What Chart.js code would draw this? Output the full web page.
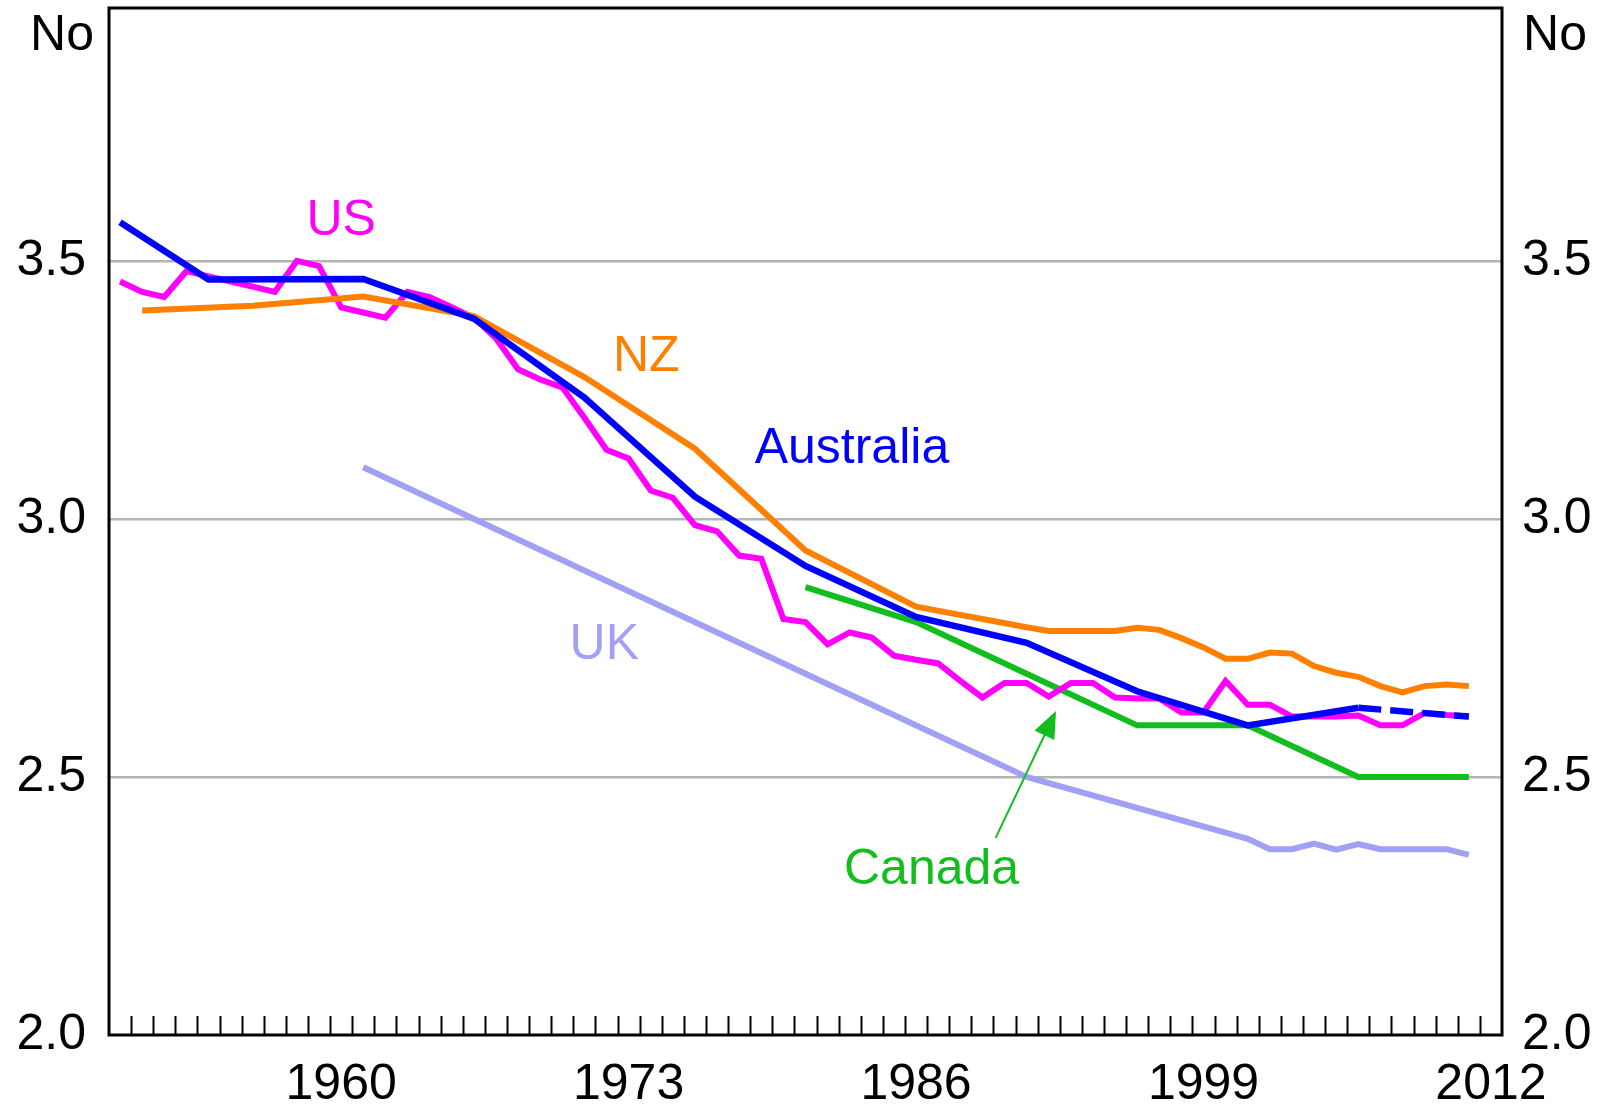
<!DOCTYPE html>
<html>
<head>
<meta charset="utf-8">
<script src="https://cdn.jsdelivr.net/npm/chart.js@4.4.1/dist/chart.umd.min.js"></script>
<style>
  html, body { margin:0; padding:0; background:#fff; }
</style>
</head>
<body>
<canvas id="chart" width="1599" height="1105"></canvas>
<script>
// ---------------------------
// DATA
// ---------------------------
const LABEL_YEARS = [1960, 1973, 1986, 1999, 2012];
const Y_TICKS = [2.0, 2.5, 3.0, 3.5];

const US_FIRST_YEAR = 1950;
const US_VALUES = [
  3.46, 3.44, 3.43, 3.48, 3.47, 3.46, 3.45, 3.44, 3.50, 3.49,
  3.41, 3.40, 3.39, 3.44, 3.43, 3.41, 3.39, 3.35, 3.29, 3.27,
  3.255, 3.196, 3.134, 3.117, 3.055, 3.041, 2.988, 2.976, 2.929, 2.923,
  2.806, 2.80, 2.757, 2.78, 2.77, 2.735, 2.727, 2.72, 2.686, 2.654,
  2.682, 2.682, 2.656, 2.682, 2.682, 2.654, 2.652, 2.652, 2.625, 2.625,
  2.686, 2.640, 2.640, 2.617, 2.617, 2.617, 2.619, 2.600, 2.600, 2.624,
  2.620, 2.617
];

const AU_YEARS  = [1950, 1954, 1961, 1966, 1971, 1976, 1981, 1986, 1991, 1996, 2001, 2006, 2011];
const AU_VALUES = [3.575, 3.464, 3.465, 3.388, 3.235, 3.043, 2.909, 2.81, 2.76, 2.666, 2.60, 2.634, 2.617];

const NZ_YEARS  = [1951, 1956, 1961, 1966, 1971, 1976, 1981, 1986, 1991,
                   1992, 1993, 1994, 1995, 1996, 1997, 1998, 1999, 2000, 2001,
                   2002, 2003, 2004, 2005, 2006, 2007, 2008, 2009, 2010, 2011];
const NZ_VALUES = [3.404, 3.413, 3.431, 3.393, 3.275, 3.136, 2.939, 2.83, 2.79,
                   2.783, 2.783, 2.783, 2.783, 2.789, 2.785, 2.769, 2.751, 2.729, 2.729,
                   2.741, 2.739, 2.715, 2.702, 2.694, 2.676, 2.664, 2.676, 2.679, 2.676];

const CA_YEARS  = [1981, 1986, 1991, 1996, 2001, 2006, 2011];
const CA_VALUES = [2.868, 2.80, 2.70, 2.60, 2.60, 2.50, 2.50];

const UK_YEARS  = [1961, 1971, 1981, 1991, 2001, 2002, 2003, 2004, 2005, 2006, 2007, 2008, 2009, 2010, 2011];
const UK_VALUES = [3.10, 2.90, 2.70, 2.50, 2.38, 2.36, 2.36, 2.371, 2.359, 2.37, 2.36, 2.36, 2.36, 2.36, 2.349];

// ---------------------------
// STYLE
// ---------------------------
const FONT = "'Liberation Sans', Arial, Helvetica, sans-serif";
const COLORS = { AU:"#0000ff", US:"#ff00ff", NZ:"#ff8000", CA:"#12be1e", UK:"#a0a0f5" };

// series labels, in data coordinates: [text, year, value, color]
const SERIES_LABELS = [
  ["US",        1960.0, 3.577, COLORS.US],
  ["NZ",        1973.8, 3.313, COLORS.NZ],
  ["Australia", 1983.1, 3.136, COLORS.AU],
  ["UK",        1971.9, 2.756, COLORS.UK],
  ["Canada",    1986.7, 2.320, COLORS.CA],
];

// ---------------------------
// HELPERS
// ---------------------------
const pts = (xs, ys) => xs.map((x,i)=>({x, y: ys[i]}));
const usPoints = US_VALUES.map((v,i)=>({x: US_FIRST_YEAR + i, y: v}));
const lastAu = AU_YEARS.length - 2;

function line(label, data, color, width, extra){
  return Object.assign({
    label, data, borderColor: color, backgroundColor: color,
    borderWidth: width, pointRadius: 0, tension: 0, fill: false,
    borderCapStyle: "butt", borderJoinStyle: "miter"
  }, extra || {});
}

const decor = {
  id: "decor",
  afterDatasetsDraw(chart){
    const {ctx, chartArea:a, scales:{x, y}} = chart;
    ctx.save();
    // minor year ticks, between year categories
    ctx.strokeStyle = "#000";
    ctx.lineWidth = 2;
    ctx.beginPath();
    for (let yr = x.min + 1; yr < x.max; yr++){
      const px = Math.round(x.getPixelForValue(yr)) + 0.5;
      ctx.moveTo(px, a.bottom);
      ctx.lineTo(px, a.bottom - 19);
    }
    ctx.stroke();
    // frame
    ctx.lineWidth = 3;
    ctx.strokeRect(a.left, a.top, a.right - a.left, a.bottom - a.top);
    // unit labels
    ctx.fillStyle = "#000";
    ctx.font = "50px " + FONT;
    ctx.textAlign = "right";
    ctx.textBaseline = "alphabetic";
    ctx.fillText("No", a.left - 15, 50);
    ctx.fillText("No", chart.width - 12, 50);
    // series labels
    ctx.textAlign = "center";
    ctx.textBaseline = "middle";
    SERIES_LABELS.forEach(([t, yr, v, c])=>{
      ctx.fillStyle = c;
      ctx.fillText(t, x.getPixelForValue(yr), y.getPixelForValue(v));
    });
    // Canada arrow
    const x0 = x.getPixelForValue(1989.6), y0 = y.getPixelForValue(2.382);
    const x1 = x.getPixelForValue(1992.33), y1 = y.getPixelForValue(2.628);
    const ang = Math.atan2(y1 - y0, x1 - x0);
    ctx.strokeStyle = COLORS.CA;
    ctx.fillStyle = COLORS.CA;
    ctx.lineWidth = 2;
    ctx.beginPath();
    ctx.moveTo(x0, y0);
    ctx.lineTo(x1 - 20*Math.cos(ang), y1 - 20*Math.sin(ang));
    ctx.stroke();
    ctx.beginPath();
    ctx.moveTo(x1, y1);
    ctx.lineTo(x1 - 27*Math.cos(ang) + 11*Math.sin(ang), y1 - 27*Math.sin(ang) - 11*Math.cos(ang));
    ctx.lineTo(x1 - 27*Math.cos(ang) - 11*Math.sin(ang), y1 - 27*Math.sin(ang) + 11*Math.cos(ang));
    ctx.closePath();
    ctx.fill();
    ctx.restore();
  }
};

function yScale(position, width, withGrid){
  return {
    type: "linear", position, min: 2, max: 3.99,
    afterBuildTicks: s => { s.ticks = Y_TICKS.map(v=>({value:v})); },
    afterFit: s => { s.width = width; s.paddingTop = 0; s.paddingBottom = 0; },
    border: { display:false },
    grid: {
      display: withGrid, drawTicks: false, color: "#b4b4b4",
      lineWidth: c => (c.tick && c.tick.value === 2) ? 0 : 2.5
    },
    ticks: {
      padding: position === "left" ? 23 : 20,
      color: "#000", font: { family: FONT, size: 50 },
      callback: v => Number(v).toFixed(1)
    }
  };
}

// ---------------------------
// CHART
// ---------------------------
Chart.defaults.font.family = FONT;
new Chart(document.getElementById("chart"), {
  type: "line",
  data: {
    datasets: [
      line("Australia", pts(AU_YEARS, AU_VALUES), COLORS.AU, 6.5, {
        segment: { borderDash: c => c.p0DataIndex === lastAu ? [23, 9] : undefined }
      }),
      line("NZ", pts(NZ_YEARS, NZ_VALUES), COLORS.NZ, 6),
      line("US", usPoints, COLORS.US, 6),
      line("Canada", pts(CA_YEARS, CA_VALUES), COLORS.CA, 6),
      line("UK", pts(UK_YEARS, UK_VALUES), COLORS.UK, 6),
    ]
  },
  options: {
    responsive: false,
    animation: false,
    devicePixelRatio: 1,
    layout: { padding: { top: 8, left: 0, right: 0, bottom: 0 } },
    plugins: { legend: { display:false }, tooltip: { enabled:false } },
    scales: {
      x: {
        type: "linear", position: "bottom", min: 1949.5, max: 2012.5,
        afterBuildTicks: s => { s.ticks = LABEL_YEARS.map(v=>({value:v})); },
        afterFit: s => { s.height = 70; s.paddingLeft = 0; s.paddingRight = 0; },
        border: { display:false },
        grid: { display:false },
        ticks: {
          padding: 12, maxRotation: 0, autoSkip: false,
          color: "#000", font: { family: FONT, size: 50 },
          callback: v => String(v)
        }
      },
      y: yScale("left", 109, true),
      y2: yScale("right", 97, false)
    }
  },
  plugins: [decor]
});
</script>
</body>
</html>
